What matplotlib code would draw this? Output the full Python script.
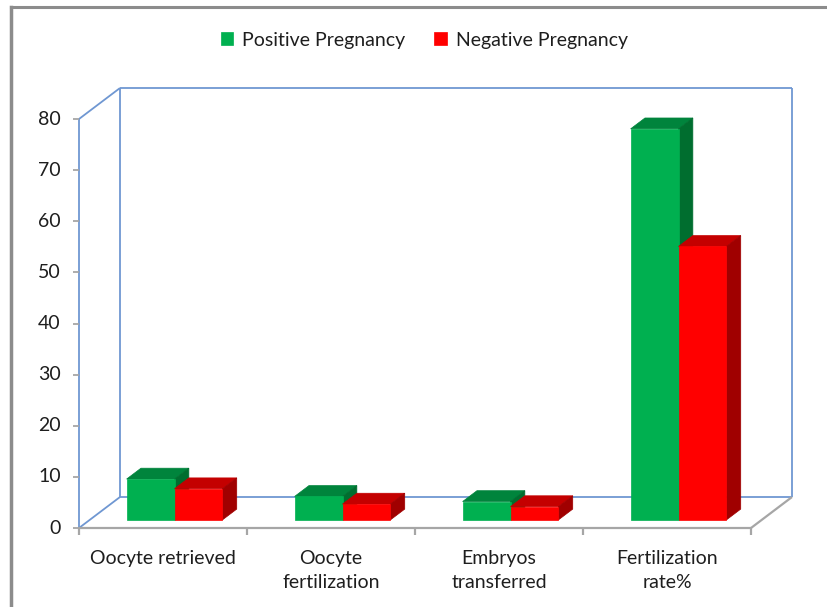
import matplotlib
matplotlib.use("Agg")
import matplotlib.pyplot as plt
from matplotlib.patches import Polygon
from matplotlib.lines import Line2D

categories = ["Oocyte retrieved", "Oocyte\nfertilization", "Embryos\ntransferred", "Fertilization\nrate%"]
positive = [8.0, 4.6, 3.6, 76.5]
negative = [6.1, 3.1, 2.6, 53.5]
yticks = [0, 10, 20, 30, 40, 50, 60, 70, 80]
series_names = ["Positive Pregnancy", "Negative Pregnancy"]

plt.rcParams["font.family"] = ["Lato", "DejaVu Sans"]

W, H = 827, 607
fig = plt.figure(figsize=(W / 100, H / 100), dpi=100)
ax = fig.add_axes([0, 0, 1, 1])

# pixel scale of the front plane
px_x = 168.0      # pixels per category
px_y = 5.1125     # pixels per value unit
x0_px, y0_px = 79, 79
ax.set_xlim(-x0_px / px_x, (W - x0_px) / px_x)
ax.set_ylim(-y0_px / px_y, (H - y0_px) / px_y)
ax.axis("off")

# oblique depth offset for full depth (z = 1)
DX = 41 / px_x
DY = 31 / px_y
ymax = 80
ncat = len(categories)


def proj(x, v, z):
    return (x + z * DX, v + z * DY)


wall_blue = "#6f97d2"
floor_gray = "#a6a6a6"
text_color = "#1e1e1e"


def seg(p, q, color, lw=1.3, zorder=1):
    ax.plot([p[0], q[0]], [p[1], q[1]], color=color, lw=lw, zorder=zorder,
            solid_capstyle="butt")


# back wall
seg(proj(0, 0, 1), proj(ncat, 0, 1), wall_blue)
seg(proj(0, ymax, 1), proj(ncat, ymax, 1), wall_blue)
seg(proj(0, 0, 1), proj(0, ymax, 1), wall_blue)
seg(proj(ncat, 0, 1), proj(ncat, ymax, 1), wall_blue)
# side wall
seg(proj(0, 0, 0), proj(0, ymax, 0), wall_blue)
seg(proj(0, ymax, 0), proj(0, ymax, 1), wall_blue)
seg(proj(0, 0, 0), proj(0, 0, 1), wall_blue)
# floor
seg(proj(0, 0, 0), proj(ncat, 0, 0), floor_gray, lw=1.6)
seg(proj(ncat, 0, 0), proj(ncat, 0, 1), floor_gray, lw=1.6)

# ticks
tick_dx = 6 / px_x
for t in yticks:
    seg((-tick_dx, t), (0, t), floor_gray, lw=1.3)
    ax.text(-0.108, t, str(t), ha="right", va="center", fontsize=14, color=text_color)
tick_dy = 7 / px_y
for i in range(ncat + 1):
    seg((i, 0), (i, -tick_dy), floor_gray, lw=1.6)
for i, c in enumerate(categories):
    ax.text(i + 0.5, -4.3, c, ha="center", va="top", fontsize=14, color=text_color,
            linespacing=1.5)

# 3D bars
z0, z1 = 0.26, 0.61
bw = 0.285
colors = [("#00b050", "#00843c", "#006e2f"), ("#ff0000", "#c40000", "#a00000")]
xs = [i + 0.505 for i in range(ncat)]
handles = []
for i in range(ncat):
    for s, vals in enumerate([positive, negative]):
        front, top, side = colors[s]
        v = vals[i]
        xl = xs[i] - bw + s * bw
        xr = xl + bw
        ax.add_patch(Polygon([proj(xl, v, z0), proj(xr, v, z0), proj(xr, v, z1), proj(xl, v, z1)],
                             closed=True, facecolor=top, edgecolor=top, lw=0.5, zorder=3))
        ax.add_patch(Polygon([proj(xr, 0, z0), proj(xr, v, z0), proj(xr, v, z1), proj(xr, 0, z1)],
                             closed=True, facecolor=side, edgecolor=side, lw=0.5, zorder=3))
        b = ax.bar(xl + z0 * DX, v, width=bw, bottom=z0 * DY, align="edge",
                   color=front, edgecolor=front, lw=0.5, zorder=3,
                   label=series_names[s] if i == 0 else None)
        if i == 0:
            handles.append(b)

fig.legend(handles=handles, labels=series_names, loc="center", bbox_to_anchor=(0.513, 0.934),
           ncol=2, frameon=False, fontsize=14, handlelength=0.65, handleheight=0.65,
           handletextpad=0.45, columnspacing=1.5, labelcolor=text_color)

# outer frame
fig.add_artist(Line2D([11 / W, 1], [1 - 7 / H, 1 - 7 / H], transform=fig.transFigure,
                      color="#8c8c8c", lw=2.2))
fig.add_artist(Line2D([11 / W, 11 / W], [0, 1 - 7 / H], transform=fig.transFigure,
                      color="#8c8c8c", lw=2.5))

fig.savefig("out.png", dpi=100, facecolor="white")
